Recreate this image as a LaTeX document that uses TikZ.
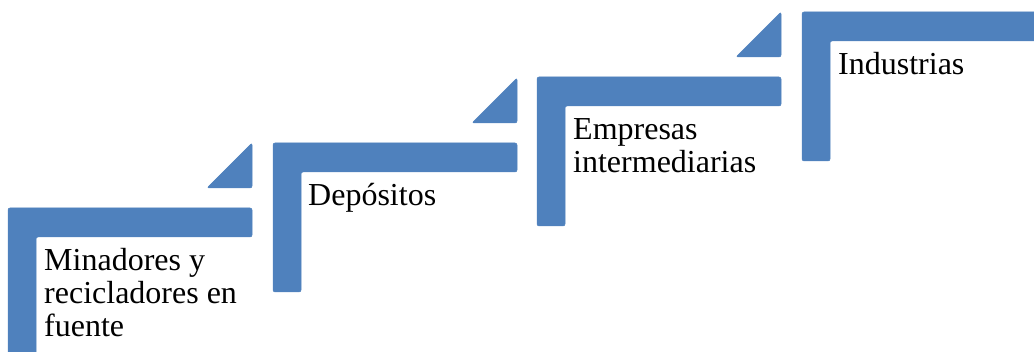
\documentclass[tikz,border=0pt]{standalone}
\usepackage{fontspec}
\setmainfont{Liberation Serif}
\definecolor{stepblue}{HTML}{4F81BD}
\tikzset{
  stepshape/.style={fill=stepblue, draw=stepblue, line width=0.5pt, rounded corners=2pt},
  steplabel/.style={anchor=base west, inner sep=0pt, align=left, font=\fontsize{32}{33}\selectfont, text=black}
}
\newcommand{\stepL}[2]{%
  \fill[stepshape] (#1,#2+149) -- (#1,#2) -- (#1+244,#2) -- (#1+244,#2+29) -- (#1+28,#2+29) -- (#1+28,#2+149) -- cycle;
}
\newcommand{\stepT}[2]{%
  \fill[stepshape] (#1+244,#2-65) -- (#1+244,#2-20) -- (#1+199,#2-20) -- cycle;
}
\begin{document}
\begin{tikzpicture}[x=1pt,y=-1pt]
\useasboundingbox (0,0) rectangle (1034,352);
\begin{scope}
\clip (0,0) rectangle (1034,352);
\stepL{8}{208}
\stepT{8}{208}
\stepL{273}{143}
\stepT{273}{143}
\stepL{537}{77}
\stepT{537}{77}
\stepL{802}{12}
\end{scope}
% base anchor sits on the last line's baseline
\node[steplabel] (s1) at (44,337) {Minadores y\\recicladores en\\fuente};
\node[steplabel] (s2) at (308,206) {Depósitos};
\node[steplabel] (s3) at (573,173) {Empresas\\intermediarias};
\node[steplabel] (s4) at (838,75) {Industrias};
\end{tikzpicture}
\end{document}
